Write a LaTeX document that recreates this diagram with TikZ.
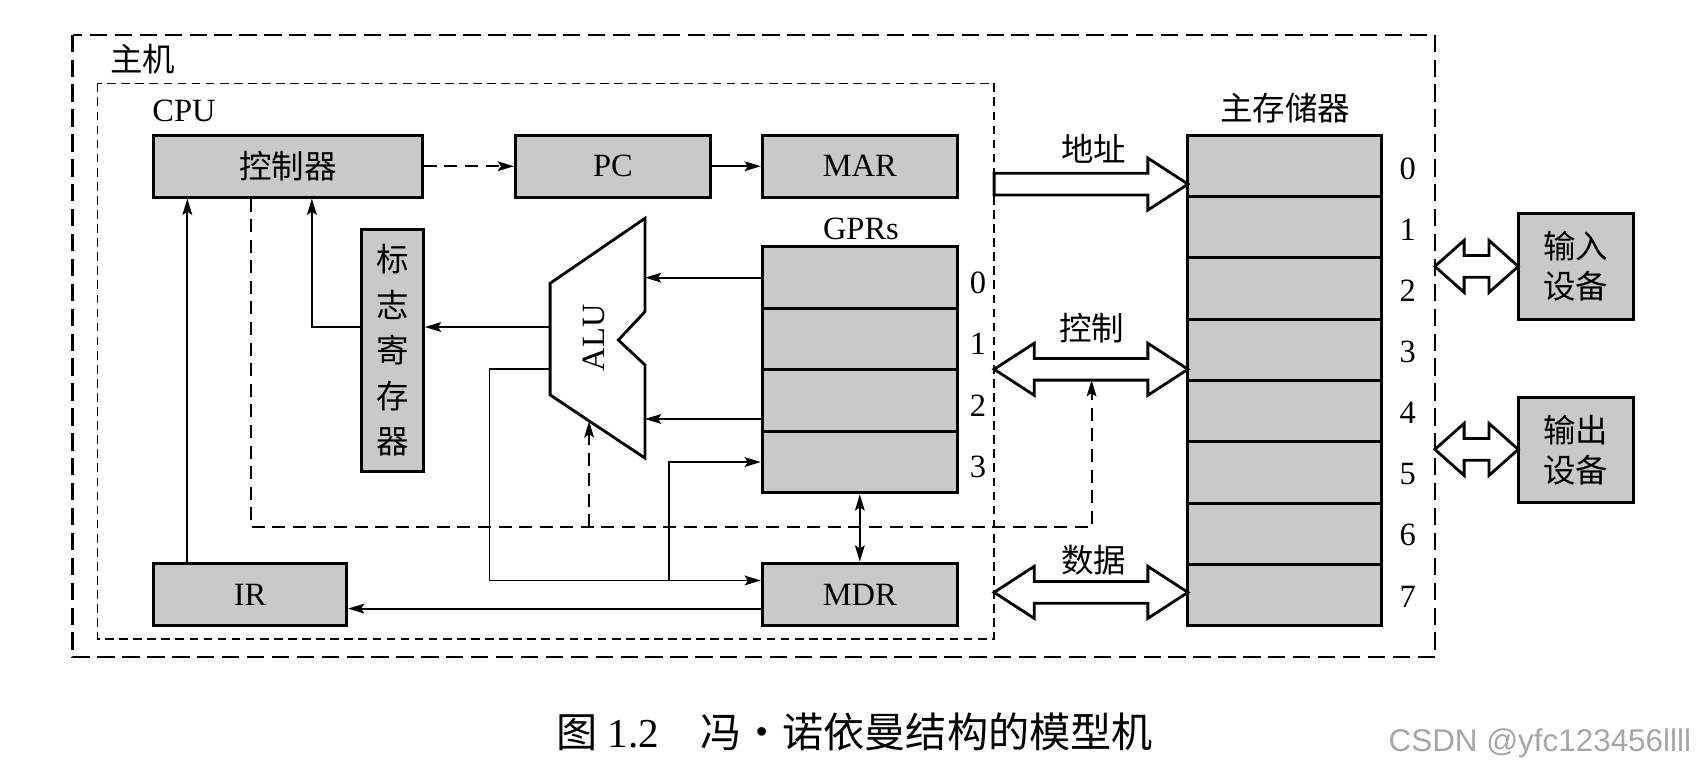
\documentclass[tikz,border=0pt]{standalone}
\usepackage{fontspec}
\setmainfont{Liberation Serif}
\newfontfamily\cjk{Noto Sans CJK SC}
\newfontfamily\wmfont{Liberation Sans}
\usetikzlibrary{arrows.meta}

\begin{document}
\begin{tikzpicture}[x=0.5pt,y=-0.5pt,
		>={Stealth[length=7.5pt,width=4.5pt,inset=1.5pt]},
		box/.style={draw,line width=1.4pt,fill=black!21,inner sep=0pt,font=\fontsize{15}{18}\selectfont},
		cell/.style={box,minimum width=90pt,minimum height=28.4pt},
		lbl/.style={font=\fontsize{15}{18}\selectfont},
		zh/.style={font=\cjk\fontsize{15}{21}\selectfont},
		sig/.style={line width=0.85pt,->},
		ctl/.style={sig,dash pattern=on 6pt off 3.5pt},
		bus/.style={draw,line width=1.3pt,fill=white,line join=miter}]
	\useasboundingbox (0,0) rectangle (1568,713);
	\draw[line width=1pt,dash pattern=on 8pt off 3.5pt] (67,32) rectangle (1325,607);
	\draw[line width=0.8pt,dash pattern=on 4pt off 2.5pt] (90,77) rectangle (918,590);
	\node[zh] (host) at (132,55) {主机};
	\node[lbl] (cpulbl) at (170,102) {CPU};
	\node[box,zh,minimum width=124pt,minimum height=28.5pt] (ctrl) at (266,153.5) {控制器};
	\node[box,minimum width=90pt,minimum height=28.5pt] (pc) at (566,153.5) {PC};
	\node[box,minimum width=90pt,minimum height=28.5pt] (mar) at (794,153.5) {MAR};
	\node[box,zh,minimum width=28.5pt,minimum height=111.5pt,align=center] (flag) at (362.5,323.5) {标\\志\\寄\\存\\器};
	\node[lbl] (gprs) at (795,211) {GPRs};
	\foreach \i in {0,...,3}{
		\node[cell] (g\i) at (794,256.4+56.75*\i) {};
		\node[lbl] (gn\i) at (903,261+56.75*\i) {\i};
	}
	\node[box,minimum width=90pt,minimum height=29pt] (mdr) at (794,549) {MDR};
	\node[box,minimum width=89pt,minimum height=29pt] (ir) at (231,549) {IR};
	% ALU
	\draw[line width=1.3pt,line join=miter] (595.6,201.6) -- (595.6,287.8) -- (571,314) -- (595.6,337)
		-- (595.6,423) -- (508,364.7) -- (508,261.6) -- cycle;
	\node[lbl,rotate=90] (alulbl) at (548,312) {ALU};
	\coordinate (aluin) at (595.6,300);
	\coordinate (aluf) at (508,302);
	\coordinate (aluo) at (508,341);
	\coordinate (aluc) at (544,389);
	\coordinate (tap) at (618,536);
	% main memory
	\node[zh] (memlbl) at (1187,100) {主存储器};
	\foreach \i in {0,...,7}{
		\node[box,minimum width=89.5pt,minimum height=28.3pt] (m\i) at (1186.5,153.3+56.6*\i) {};
		\node[lbl] (mn\i) at (1300,156+56.4*\i) {\i};
	}
	\node[box,font=\cjk\fontsize{15}{18.5}\selectfont,minimum width=53pt,minimum height=49pt,align=center] (inp) at (1455,246) {输入\\设备};
	\node[box,font=\cjk\fontsize{15}{18.5}\selectfont,minimum width=53pt,minimum height=48.5pt,align=center] (outp) at (1455,415.5) {输出\\设备};
	% buses
	\node[zh] (addrlbl) at (1010,137) {地址};
	\node[zh] (ctrllbl) at (1008,303) {控制};
	\node[zh] (datalbl) at (1010,517) {数据};
	\draw[bus] (918,160) -- (1060,160) -- (1060,146) -- (1097,170) -- (1060,194) -- (1060,180) -- (918,180) -- cycle;
	\foreach \xa/\xb/\yc/\hl in {918/1097/341/37, 918/1097/547/37, 1325/1402/246/27, 1325/1402/415/27}
		\draw[bus] (\xa,\yc) -- ++(\hl,-24) -- ++(0,14) -- (\xb-\hl,\yc-10) -- ++(0,-14) -- (\xb,\yc)
			-- ++(-\hl,24) -- ++(0,-14) -- (\xa+\hl,\yc+10) -- ++(0,14) -- cycle;
	\coordinate (cbus) at (1008,351);
	\coordinate (cturn) at (1008,487);
	% signals
	\draw[ctl] (ctrl.east) -- (pc.west);
	\draw[sig] (pc.east) -- (mar.west);
	\draw[sig] ([xshift=-29pt]ir.north) -- ([xshift=-29pt]ir.north |- ctrl.south);
	\draw[sig] ([yshift=10.75pt]flag.west) -| ([xshift=11pt]ctrl.south);
	\draw[sig] (aluf) -- (aluf -| flag.east);
	\draw[sig] (g0.west) -- (g0.west -| aluin);
	\draw[sig] ([yshift=-8.5pt]g2.west) -- ([yshift=-8.5pt]g2.west -| aluin);
	\draw[sig] (aluo) -- ++(-56,0) |- ([yshift=6.5pt]mdr.west);
	\draw[sig] (tap) |- (g3.west);
	\draw[sig] ([yshift=-6.5pt]mdr.west) -- ([yshift=-6.5pt]mdr.west -| ir.east);
	\draw[sig,<->] (g3.south) -- (mdr.north);
	\draw[ctl] ([xshift=-17pt]ctrl.south) |- (cturn) -- (cbus);
	\draw[ctl] (aluc |- cturn) -- (aluc);
	% caption
	\node[font=\fontsize{19}{21}\selectfont] (cap) at (789,676) {{\cjk 图} 1.2\quad{\cjk 冯・诺依曼结构的模型机}};
	\node[font=\wmfont\fontsize{14.5}{16}\selectfont,text=black!35] (wm) at (1422,686) {CSDN @yfc123456llll};
\end{tikzpicture}
\end{document}
